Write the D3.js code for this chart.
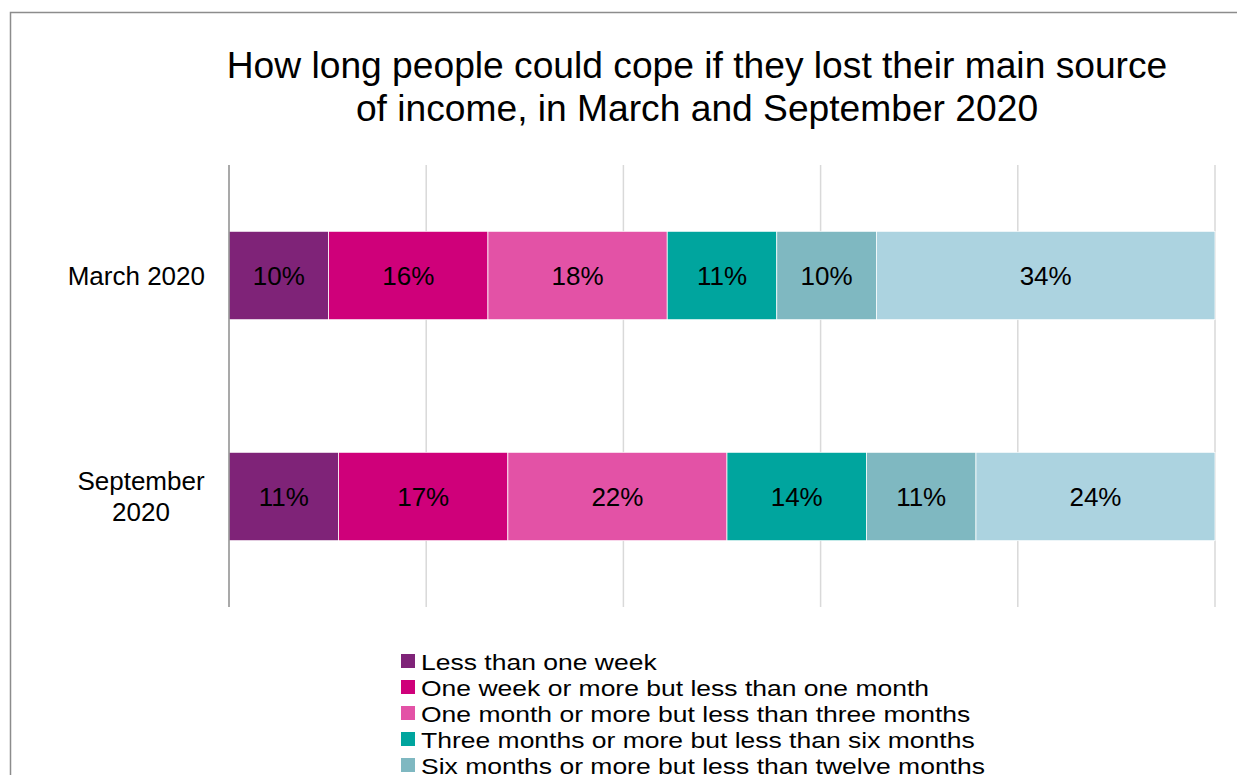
<!DOCTYPE html>
<html>
<head>
<meta charset="utf-8">
<script src="https://cdn.jsdelivr.net/npm/d3@7"></script>
<style>
  html, body { margin: 0; padding: 0; background: #fff; overflow: hidden; }
  svg { display: block; font-family: "Liberation Sans", Arial, sans-serif; }
</style>
</head>
<body>
<svg id="chart" width="1237" height="775"></svg>
<script>
// Periods surveyed (one bar each)
const periods = ["March 2020", "September 2020"];
const periodLines = [["March 2020"], ["September", "2020"]];

// Duration bands, in stacking order
const bands = [
  "Less than one week",
  "One week or more but less than one month",
  "One month or more but less than three months",
  "Three months or more but less than six months",
  "Six months or more but less than twelve months",
  "Twelve months or more"
];
const bandColors = ["#7f2378", "#cf007a", "#e352a6", "#00a59e", "#7fb8c1", "#acd3e0"];

// Percentage of people in each band
const march2020 = [10, 16, 18, 11, 10, 34];
const september2020 = [11, 17, 22, 14, 11, 24];

const gridTicks = [0, 0.2, 0.4, 0.6, 0.8, 1];

const svg = d3.select("#chart");
const W = 1237, H = 775;

// Outer frame (runs past the right and bottom edges)
svg.append("rect")
  .attr("x", 10.5).attr("y", 12.5)
  .attr("width", W + 20).attr("height", H + 20)
  .attr("fill", "#fff").attr("stroke", "#8c8c8c").attr("stroke-width", 1.5);

// Title
const title = svg.append("text")
  .attr("text-anchor", "middle")
  .attr("font-size", 37.2)
  .attr("fill", "#000");
title.append("tspan").attr("x", 697).attr("y", 78)
  .text("How long people could cope if they lost their main source");
title.append("tspan").attr("x", 697).attr("y", 121)
  .text("of income, in March and September 2020");

// Plot area
const plot = { left: 229, right: 1215, top: 165, bottom: 607 };

const rows = periods.map((p, i) => {
  const vals = i === 0 ? march2020 : september2020;
  const o = { period: p };
  bands.forEach((b, j) => { o[b] = vals[j]; });
  return o;
});

const stack = d3.stack().keys(bands).offset(d3.stackOffsetExpand);
const series = stack(rows);

const x = d3.scaleLinear().domain([0, 1]).range([plot.left, plot.right]);
const y = d3.scaleBand().domain(periods).range([plot.top, plot.bottom])
  .paddingInner(0.6).paddingOuter(0.3);

// Vertical gridlines
svg.append("g")
  .selectAll("line")
  .data(gridTicks.slice(1))
  .join("line")
  .attr("x1", d => x(d)).attr("x2", d => x(d))
  .attr("y1", plot.top).attr("y2", plot.bottom)
  .attr("stroke", "#d9d9d9").attr("stroke-width", 1.5);

// Bars
const groups = svg.append("g")
  .selectAll("g")
  .data(series)
  .join("g")
  .attr("fill", (d, i) => bandColors[i]);

groups.selectAll("rect")
  .data(d => d.map(s => ({ s, key: d.key })))
  .join("rect")
  .attr("x", d => x(d.s[0]))
  .attr("y", d => y(d.s.data.period))
  .attr("width", d => x(d.s[1]) - x(d.s[0]))
  .attr("height", y.bandwidth())
  .attr("stroke", "#fff").attr("stroke-width", 0.75);

// Value labels
groups.selectAll("text")
  .data(d => d.map(s => ({ s, key: d.key })))
  .join("text")
  .attr("x", d => (x(d.s[0]) + x(d.s[1])) / 2)
  .attr("y", d => y(d.s.data.period) + y.bandwidth() / 2)
  .attr("dy", "0.36em")
  .attr("text-anchor", "middle")
  .attr("font-size", 26)
  .attr("fill", "#000")
  .text(d => d.s.data[d.key] + "%");

// Category axis line
svg.append("line")
  .attr("x1", plot.left).attr("x2", plot.left)
  .attr("y1", plot.top).attr("y2", plot.bottom)
  .attr("stroke", "#8c8c8c").attr("stroke-width", 1.5);

// Category labels: single lines sit against the axis, wrapped lines are centred
periods.forEach((p, i) => {
  const lines = periodLines[i];
  const cy = y(p) + y.bandwidth() / 2;
  const lh = 31;
  const single = lines.length === 1;
  const t = svg.append("text")
    .attr("text-anchor", single ? "end" : "middle")
    .attr("font-size", 26)
    .attr("fill", "#000");
  lines.forEach((ln, k) => {
    t.append("tspan")
      .attr("x", single ? 205 : 141)
      .attr("y", cy + (k - (lines.length - 1) / 2) * lh)
      .attr("dy", "0.36em")
      .text(ln);
  });
});

// Legend (text is set wide and rows packed tightly)
const legend = svg.append("g").attr("transform", "translate(401,661)");
const items = legend.selectAll("g")
  .data(bands)
  .join("g")
  .attr("transform", (d, i) => `translate(0,${i * 26})`);
items.append("rect")
  .attr("x", 0).attr("y", -7)
  .attr("width", 14).attr("height", 14)
  .attr("fill", (d, i) => bandColors[i]);
items.append("text")
  .attr("transform", "translate(20,9) scale(1.205,1)")
  .attr("font-size", 22)
  .attr("fill", "#000")
  .text(d => d);
</script>
</body>
</html>
